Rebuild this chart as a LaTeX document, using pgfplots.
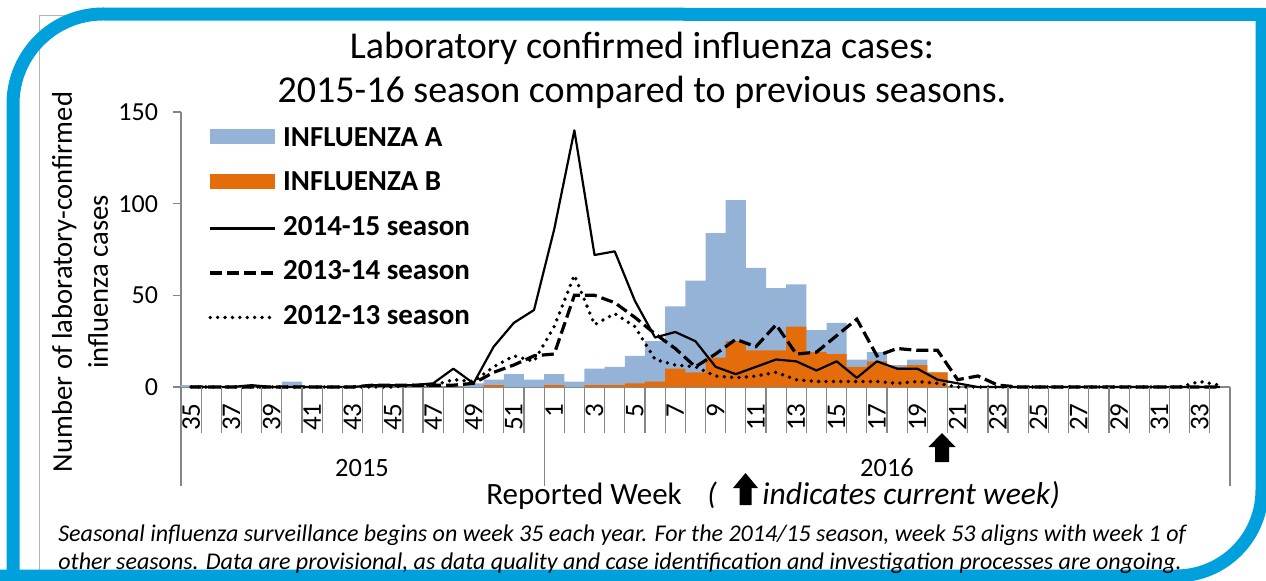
\documentclass[border=0pt]{standalone}
\usepackage{pgfplots}
\pgfplotsset{compat=1.18}
\usepackage{fontspec}
\setmainfont{Carlito}
\definecolor{frameblue}{RGB}{0,160,220}
\definecolor{barblue}{RGB}{149,179,215}
\definecolor{barorange}{RGB}{228,108,10}
\definecolor{axisgray}{RGB}{134,134,134}
\tikzset{
  s1415/.style={black, line width=1.1pt, line join=round},
  s1314/.style={black, line width=1.6pt, dash pattern=on 6pt off 2.5pt},
  s1213/.style={black, line width=1.9pt, line cap=round, dash pattern=on 0pt off 3.7pt},
}

\pgfplotstableread{
x  a
0  1
5  3
14 2
15 4
16 7
17 4
18 7
19 3
20 10
21 11
22 17
23 25
24 44
25 58
26 84
27 102
28 65
29 54
30 56
31 31
32 35
33 15
34 19
35 12
36 15
37 8
}\fluA

\pgfplotstableread{
x  b
15 1
18 1
20 1
21 1
22 2
23 3
24 10
25 8
26 16
27 25
28 20
29 20
30 33
31 19
32 18
33 11
34 14
35 11
36 12
37 8
}\fluB

\pgfplotstableread{
x  s1415 s1314 s1213
0  0   0   0
1  0   0   0
2  0   0   0
3  1   0   0
4  0   0   0
5  0   0   0
6  0   0   0
7  0   0   0
8  0   0   0
9  1   1   0
10 1   1   0
11 1   1   1
12 2   1   1
13 10  1   4
14 2   2   3
15 22  8   11
16 35  12  17
17 42  17  14
18 86  18  33
19 140 50  61
20 72  50  34
21 74  46  40
22 47  38  33
23 27  29  15
24 30  21  12
25 25  11  11
26 11  18  6
27 7   26  5
28 11  22  6
29 15  34  8
30 14  18  4
31 9   19  3
32 14  28  3
33 5   37  3
34 14  17  3
35 10  21  2
36 10  20  3
37 4   20  2
38 2   4   0
39 0   6   0
40 0   1   0
41 0   0   0
42 0   0   0
43 0   0   0
44 0   0   0
45 0   0   0
46 0   0   0
47 0   0   0
48 0   0   0
49 0   0   0
50 0   0   3
51 0   0   1
}\seasons

\begin{document}
\begin{tikzpicture}
\useasboundingbox (0,0) rectangle (633pt,290pt);
\clip (0,0) rectangle (633pt,290pt);
\begin{scope}[x=0.5pt,y=-0.5pt,yshift=290pt]
  \draw[axisgray!60, line width=0.5pt] (39,600) -- (39,16) -- (1250,16);
  \draw[frameblue, line width=6.5pt, line join=miter]
    (13,620) -- (13,104) arc[start angle=180,end angle=270,radius=90]
    -- (1262,14.5) -- (1262,490) arc[start angle=0,end angle=90,radius=86]
    -- (-20,576);
  % title
  \node[anchor=base, font=\fontsize{19pt}{22pt}\selectfont] at (642,58) {Laboratory confirmed influenza cases:};
  \node[anchor=base, font=\fontsize{19pt}{22pt}\selectfont] at (642,102) {2015-16 season compared to previous seasons.};
  % y label
  \node[rotate=90, align=center, font=\fontsize{14.3pt}{18pt}\selectfont] at (80,282) {Number of laboratory-confirmed\\influenza cases};
  % x title
  \node[anchor=base west, inner sep=0pt, font=\fontsize{15.5pt}{18pt}\selectfont] at (486,504) {Reported Week};
  \node[anchor=base west, inner sep=0pt, font=\itshape\fontsize{15.5pt}{18pt}\selectfont] at (707,504) {(};
  \node[anchor=base west, inner sep=0pt, font=\itshape\fontsize{15.8pt}{18pt}\selectfont] at (762,504) {indicates current week)};
  \fill[black] (745.5,473) -- (758,488) -- (751.5,488) -- (751.5,505) -- (739.5,505) -- (739.5,488) -- (733,488) -- cycle;
  % current week arrow
  \fill[black] (942,433) -- (955.5,447) -- (949,447) -- (949,462) -- (935,462) -- (935,447) -- (928.5,447) -- cycle;
  % years
  \node[anchor=base, font=\fontsize{13.2pt}{15pt}\selectfont] at (362,476.5) {2015};
  \node[anchor=base, font=\fontsize{13.2pt}{15pt}\selectfont] at (887,476.5) {2016};
  % footnote
  \node[anchor=base west, inner sep=0pt, font=\itshape\fontsize{12pt}{13pt}\selectfont] at (58,541.5) {Seasonal influenza surveillance begins on week 35 each year. For the 2014/15 season, week 53 aligns with week 1 of};
  \node[anchor=base west, inner sep=0pt, font=\itshape\fontsize{12pt}{13pt}\selectfont] at (58,569) {other seasons. Data are provisional, as data quality and case identification and investigation processes are ongoing.};
\end{scope}

\begin{axis}[
  at={(90.5pt,96.5pt)}, anchor=south west,
  width=524.5pt, height=137.5pt, scale only axis,
  xmin=-0.5, xmax=51.5, ymin=0, ymax=150,
  axis x line*=bottom, axis y line*=left,
  axis line style={axisgray, line width=0.6pt},
  ytick={0,50,100,150}, tick align=outside, major tick length=4pt,
  ytick style={axisgray, line width=0.6pt},
  xtick={0,2,...,50},
  xticklabels={35,37,39,41,43,45,47,49,51,1,3,5,7,9,11,13,15,17,19,21,23,25,27,29,31,33},
  xtick style={draw=none},
  x tick label style={rotate=90, anchor=east, font=\fontsize{13.5pt}{14pt}\selectfont, inner sep=0pt, xshift=-4pt},
  y tick label style={font=\fontsize{13pt}{14pt}\selectfont, xshift=-4pt},
  /pgf/number format/assume math mode=true,
  clip=false,
  legend style={at={(rel axis cs:0.0257,0.949)}, anchor=north west, draw=none, fill=none,
    inner sep=0pt, row sep=9.25pt,
    font=\bfseries\fontsize{14.5pt}{15pt}\selectfont,
    nodes={inner sep=0pt, text height=10pt, text depth=3pt}},
  legend cell align=left,
]
\addplot[ybar, bar width=10.085pt, bar shift=0pt, fill=barblue, draw=none,
  legend image code/.code={\fill[barblue] (0pt,-2.5pt) rectangle (32.5pt,5pt); \path (35.5pt,0pt);}]
  table[x=x, y=a] {\fluA};
\addlegendentry{INFLUENZA A}
\addplot[ybar, bar width=10.085pt, bar shift=0pt, fill=barorange, draw=none,
  legend image code/.code={\fill[barorange] (0pt,-2.5pt) rectangle (32.5pt,5pt); \path (35.5pt,0pt);}]
  table[x=x, y=b] {\fluB};
\addlegendentry{INFLUENZA B}
\addplot[s1415, legend image code/.code={\draw[s1415] (0pt,0pt) -- (32.5pt,0pt); \path (35.5pt,0pt);}]
  table[x=x, y=s1415] {\seasons};
\addlegendentry{2014-15 season}
\addplot[s1314, legend image code/.code={\draw[s1314] (0pt,0pt) -- (32.5pt,0pt); \path (35.5pt,0pt);}]
  table[x=x, y=s1314] {\seasons};
\addlegendentry{2013-14 season}
\addplot[s1213, legend image code/.code={\draw[s1213] (0pt,0pt) -- (32.5pt,0pt); \path (35.5pt,0pt);}]
  table[x=x, y=s1213] {\seasons};
\addlegendentry{2012-13 season}

\pgfplotsinvokeforeach{-0.5,0.5,...,51.5}{
  \draw[axisgray, line width=0.6pt] (axis cs:#1,0) -- ++(0pt,-23pt);
}
\draw[axisgray, line width=0.6pt] (axis cs:-0.5,0) -- ++(0pt,-49.5pt);
\draw[axisgray, line width=0.6pt] (axis cs:17.5,0) -- ++(0pt,-49.5pt);
\draw[axisgray, line width=0.6pt] (axis cs:51.5,0) -- ++(0pt,-49.5pt);
\end{axis}
\end{tikzpicture}
\end{document}
